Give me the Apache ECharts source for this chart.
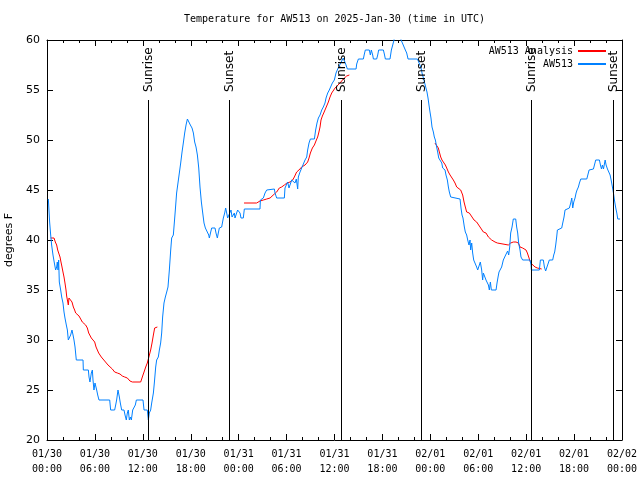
<!DOCTYPE html>
<html>
<head>
<meta charset="utf-8">
<script src="https://cdn.jsdelivr.net/npm/echarts@6/dist/echarts.min.js"></script>
<style>html,body{margin:0;padding:0;background:#fff}#c{width:640px;height:480px}</style>
</head>
<body>
<div id="c"></div>
<script>
// Hours since 2025-01-30 00:00 UTC
const blueHours = [0.17,0.33,0.46,0.58,0.75,0.92,1.08,1.21,1.29,1.38,1.46,1.54,1.71,1.84,2.00,2.13,2.25,2.42,2.55,2.67,2.84,2.96,3.13,3.26,3.38,3.51,3.67,4.51,4.55,5.18,5.26,5.38,5.55,5.68,5.76,5.88,6.01,6.14,6.22,6.35,6.51,7.85,7.97,8.47,8.60,8.72,8.89,9.06,9.18,9.35,9.64,9.77,9.93,10.06,10.18,10.31,10.43,10.56,10.73,10.89,11.06,11.19,12.02,12.15,12.56,12.69,12.81,12.98,13.11,13.32,13.44,13.61,13.73,13.94,14.07,14.23,14.36,14.48,14.65,14.82,14.99,15.15,15.32,15.49,15.61,15.82,15.94,16.07,16.23,16.40,16.57,16.74,16.91,17.07,17.24,17.41,17.58,17.83,17.95,18.16,18.33,18.49,18.66,18.83,19.00,19.16,19.33,19.50,19.66,19.83,20.08,20.25,20.33,20.50,20.62,21.04,21.16,21.33,21.45,21.58,21.87,22.08,22.25,22.37,22.50,22.62,22.83,23.04,23.17,23.33,23.46,23.54,23.75,23.87,24.08,24.17,24.29,24.58,24.71,26.67,26.72,27.09,27.30,27.51,28.47,28.55,28.76,29.72,29.80,30.01,30.14,30.30,30.47,30.64,30.85,31.05,31.22,31.39,31.47,31.68,31.89,32.10,32.31,32.52,32.64,32.81,32.98,33.48,33.64,33.81,33.98,34.19,34.40,34.60,34.81,34.94,35.15,35.35,35.56,35.73,35.98,36.19,36.40,36.61,36.90,37.10,37.23,37.40,37.61,38.70,38.78,38.99,39.61,39.74,39.86,40.36,40.49,40.61,40.78,40.87,41.28,41.41,41.53,42.12,42.24,42.37,42.95,43.12,43.29,43.45,43.62,44.20,44.33,44.50,44.71,44.87,45.04,45.21,46.38,46.54,46.71,46.84,46.96,47.13,47.29,47.42,47.58,47.71,47.83,47.96,48.08,48.21,48.38,48.50,48.63,48.79,48.92,49.05,49.30,49.43,49.55,49.84,49.96,50.13,50.26,50.38,50.55,50.67,51.72,51.84,51.97,52.09,52.26,52.38,52.55,52.68,52.84,52.97,53.05,53.18,53.30,53.43,53.60,53.80,53.93,54.14,54.26,54.43,54.55,54.64,54.81,54.97,55.14,55.27,55.39,55.52,55.64,56.23,56.35,56.48,56.60,56.81,56.93,57.14,57.31,57.43,57.56,57.68,57.81,57.94,58.06,58.23,58.39,58.69,58.81,58.94,59.06,59.23,59.35,59.56,60.48,60.61,60.65,61.65,61.78,62.15,62.28,62.44,62.57,62.69,62.90,63.32,63.45,63.57,63.70,63.82,63.91,64.03,64.45,64.58,64.74,64.87,65.00,65.41,65.58,65.71,65.83,65.96,66.12,66.25,66.37,66.54,66.67,66.84,67.59,67.72,67.88,68.09,68.42,68.55,68.71,69.17,69.30,69.43,69.55,69.68,69.89,70.01,70.18,70.35,70.51,70.64,70.80,70.93,71.05,71.22,71.35,71.47,71.76];
const blueTemps = [44.1,41.8,40.5,39.5,38.5,37.7,37.0,37.3,37.8,37.0,38.0,35.8,35.0,34.3,33.7,32.8,32.2,31.5,31.0,30.0,30.0,30.5,31.0,30.5,30.0,29.3,28.0,28.0,27.0,27.0,26.3,25.8,26.7,27.0,26.0,25.0,25.7,25.8,25.0,24.5,24.0,24.0,23.0,23.0,23.5,24.0,25.0,24.3,23.7,23.0,23.0,22.5,22.0,22.7,23.0,22.0,22.3,22.0,23.0,23.0,23.5,24.0,24.0,23.0,23.0,22.0,22.7,23.0,23.7,24.7,25.7,27.3,28.0,28.3,29.0,29.7,30.7,32.3,33.7,34.3,34.8,35.3,37.0,39.0,40.2,40.5,41.7,43.0,44.7,45.7,46.7,47.7,48.8,49.7,50.7,51.5,52.1,52.1,51.5,51.2,50.7,49.8,49.3,48.5,47.2,45.3,43.8,42.7,41.7,41.2,41.0,40.5,40.2,40.8,41.2,41.2,40.7,40.2,40.7,41.2,41.3,42.2,42.7,43.2,42.7,42.2,42.2,43.0,42.3,42.2,42.7,42.2,42.2,43.0,43.0,42.7,42.2,42.2,43.1,43.1,44.0,44.2,44.7,45.0,45.1,44.7,44.2,44.2,45.2,45.3,45.8,45.2,45.3,46.0,46.1,45.7,46.1,45.1,46.3,46.8,47.2,47.3,48.0,48.3,49.0,49.7,50.1,50.1,51.0,51.7,52.2,52.5,53.0,53.3,53.7,54.2,54.7,55.0,55.2,55.7,56.0,56.7,57.1,57.3,57.9,58.2,58.2,57.6,57.1,57.1,57.6,58.1,58.1,58.6,59.0,59.0,58.5,59.0,58.5,58.1,58.1,58.5,59.0,59.0,58.6,58.1,58.1,59.0,59.5,60.0,61.0,61.0,60.0,59.7,59.3,59.0,58.7,58.1,58.1,57.8,57.6,57.2,56.7,56.2,55.7,55.3,54.8,54.2,53.5,52.8,52.2,51.3,50.8,50.3,50.0,49.3,48.8,48.2,48.0,47.7,47.2,47.0,46.5,46.0,45.3,44.8,44.3,44.1,44.1,43.2,42.5,42.2,41.3,40.8,40.5,40.0,39.5,40.0,39.0,39.7,38.7,38.0,38.0,37.3,37.0,37.0,37.8,37.0,36.0,36.7,36.8,36.0,35.8,35.5,35.0,35.8,35.0,35.0,35.7,36.3,36.8,37.0,37.3,38.0,38.0,38.5,38.7,38.9,38.5,39.3,40.7,41.3,42.1,42.1,41.3,40.7,39.7,39.0,38.3,38.0,38.0,37.5,37.0,37.0,38.0,38.0,37.3,36.9,37.0,37.5,38.0,38.0,38.5,38.8,39.5,40.3,41.0,41.2,41.2,41.7,42.3,43.0,43.2,43.2,43.7,44.2,43.2,43.8,44.2,44.7,45.0,45.3,45.7,46.1,46.1,46.5,47.0,47.1,47.1,47.5,48.0,48.0,47.5,47.1,47.5,47.1,48.0,47.5,47.1,47.0,46.5,46.0,45.3,44.7,44.0,43.2,42.7,42.1,42.1];

const redHours = [0.45,0.88,1.04,1.21,1.34,1.46,1.63,1.75,1.88,2.00,2.13,2.25,2.38,2.46,2.55,2.67,2.75,2.96,3.13,3.30,3.46,3.59,3.80,4.01,4.13,4.42,4.55,4.84,5.05,5.22,5.38,5.55,5.72,5.97,6.14,6.30,6.47,6.64,6.80,7.05,7.22,7.39,7.64,7.89,8.18,8.47,8.81,9.14,9.43,9.73,10.06,10.39,10.69,11.73,11.85,12.02,12.15,12.36,12.56,12.77,12.98,13.15,13.32,13.48,13.61,13.82,
  19.0,
  24.67,26.25,26.67,27.09,27.51,27.93,28.13,28.47,28.76,29.09,29.38,29.72,30.05,30.43,30.76,30.97,31.26,31.55,31.89,32.31,32.64,32.81,32.98,33.23,33.48,33.73,33.89,34.02,34.19,34.31,34.48,34.65,34.81,35.02,35.23,35.44,35.65,35.86,36.07,36.27,36.69,37.11,37.52,37.86,
  43.0,
  48.58,48.79,49.00,49.13,49.30,49.46,49.71,49.88,50.05,50.26,50.47,50.72,50.88,51.09,51.30,51.51,51.80,52.05,52.22,52.38,52.55,52.88,53.05,53.22,53.47,53.80,54.01,54.22,54.43,54.64,54.97,55.27,55.48,55.68,56.10,56.39,56.64,57.77,58.06,58.39,58.73,59.02,59.23,59.56,59.98,60.15,60.36,60.57,60.82,61.11,61.40,61.65,61.94];
const redTemps = [40.2,40.2,39.8,39.5,39.0,38.7,38.3,37.8,37.3,36.8,36.3,35.7,35.0,34.4,34.2,33.5,34.2,34.2,33.8,33.3,33.0,32.7,32.6,32.4,32.2,31.8,31.6,31.5,31.2,30.7,30.5,30.2,30.0,29.8,29.3,29.1,28.7,28.5,28.3,28.2,27.9,27.7,27.5,27.3,27.1,26.8,26.7,26.6,26.4,26.3,26.2,25.9,25.8,25.8,26.0,26.5,26.8,27.3,27.7,27.8,29.0,29.7,30.5,31.2,31.3,31.3,
  null,
  43.7,43.7,43.9,44.0,44.1,44.2,44.3,44.6,44.8,45.2,45.3,45.5,45.7,45.8,46.0,46.3,46.8,47.0,47.3,47.5,47.8,48.2,48.7,49.2,49.5,50.0,50.3,50.7,51.3,52.0,52.4,52.7,53.0,53.4,53.8,54.3,54.7,54.9,55.2,55.4,55.7,56.1,56.4,56.5,
  null,
  49.7,49.5,49.2,48.8,48.3,48.0,47.8,47.5,47.2,46.8,46.5,46.3,46.0,45.7,45.3,45.2,45.0,44.5,43.8,43.3,42.8,42.7,42.5,42.3,42.0,41.8,41.7,41.3,41.1,40.8,40.7,40.3,40.2,40.0,39.8,39.7,39.5,39.5,39.7,39.8,39.8,39.7,39.3,39.2,39.0,38.7,38.2,37.7,37.5,37.3,37.2,37.1,37.1];

const sunHours = [12.69, 22.83, 36.80, 46.84, 60.63, 70.93];
const sunLabels = ['Sunrise', 'Sunset', 'Sunrise', 'Sunset', 'Sunrise', 'Sunset'];
const dayLabels = ['01/30', '01/31', '02/01', '02/02'];

const MONO = '"DejaVu Sans Mono", "Liberation Mono", monospace';
const SANS = '"DejaVu Sans", sans-serif';

const zip = (a, b) => a.map((v, i) => [v, b[i]]);

function xLabel(v) {
  const d = Math.floor(v / 24 + 1e-6);
  const hr = Math.round(v - d * 24);
  return dayLabels[d] + '\n' + (hr < 10 ? '0' + hr : hr) + ':00';
}

const chart = echarts.init(document.getElementById('c'), null, { renderer: 'canvas' });

const xBase = {
  type: 'value', min: 0, max: 72, interval: 6,
  splitLine: { show: false },
  axisLine: { show: true, onZero: false, lineStyle: { color: '#000', width: 1 } },
  axisTick: { show: true, inside: true, length: 6, lineStyle: { color: '#000' } },
  minorTick: { show: true, splitNumber: 3, length: 3, lineStyle: { color: '#000' } },
};
const yBase = {
  type: 'value', min: 20, max: 60, interval: 5,
  splitLine: { show: false },
  axisLine: { show: true, onZero: false, lineStyle: { color: '#000', width: 1 } },
  axisTick: { show: true, inside: true, length: 6, lineStyle: { color: '#000' } },
};

chart.setOption({
  animation: false,
  backgroundColor: '#fff',
  title: {
    text: 'Temperature for AW513 on 2025-Jan-30 (time in UTC)',
    left: 179, top: 9,
    textStyle: { fontFamily: MONO, fontSize: 10, fontWeight: 'normal', color: '#000' }
  },
  legend: {
    data: ['AW513 Analysis', 'AW513'],
    orient: 'vertical', right: 29, top: 41, align: 'right',
    itemWidth: 28, itemHeight: 2, itemGap: 3, icon: 'rect',
    textStyle: { fontFamily: MONO, fontSize: 10, color: '#000', padding: [0, 0, 0, 0] },
    itemStyle: { borderWidth: 0 }
  },
  grid: { left: 47, right: 18, top: 40, bottom: 40, containLabel: false, outerBoundsMode: 'none' },
  xAxis: [
    Object.assign({}, xBase, {
      position: 'bottom',
      axisLabel: { show: true, formatter: xLabel, fontFamily: MONO, fontSize: 10, color: '#000', lineHeight: 15, margin: 7 }
    }),
    Object.assign({}, xBase, { position: 'top', axisLabel: { show: false } })
  ],
  yAxis: [
    Object.assign({}, yBase, {
      position: 'left',
      name: 'degrees F', nameLocation: 'middle', nameGap: 31, nameRotate: 90,
      nameTextStyle: { fontFamily: SANS, fontSize: 11, color: '#000' },
      axisLabel: { show: true, fontFamily: SANS, fontSize: 11, color: '#000', margin: 7 }
    }),
    Object.assign({}, yBase, { position: 'right', axisLabel: { show: false } })
  ],
  series: [
    {
      name: 'AW513 Analysis', type: 'line', xAxisIndex: 0, yAxisIndex: 0,
      data: zip(redHours, redTemps), showSymbol: false, connectNulls: false,
      lineStyle: { color: '#ff0000', width: 1 }, itemStyle: { color: '#ff0000' }, z: 3, clip: true
    },
    {
      name: 'AW513', type: 'line', xAxisIndex: 0, yAxisIndex: 0,
      data: zip(blueHours, blueTemps), showSymbol: false,
      lineStyle: { color: '#0080ff', width: 1 }, itemStyle: { color: '#0080ff' }, z: 4, clip: true
    },
    {
      name: 'sun', type: 'custom', xAxisIndex: 0, yAxisIndex: 0, z: 5, clip: false,
      data: sunHours.map((h, i) => [h, 20, i]),
      renderItem: function (params, api) {
        const h = api.value(0);
        const idx = api.value(2);
        const p1 = api.coord([h, 20]);
        const p2 = api.coord([h, 54]);
        const x = Math.round(p1[0]) + 0.5;
        return {
          type: 'group',
          children: [
            { type: 'line', shape: { x1: x, y1: p1[1], x2: x, y2: p2[1] }, style: { stroke: '#000', lineWidth: 1 } },
            { type: 'text', x: x, y: p2[1] - 8, rotation: Math.PI / 2,
              style: { text: sunLabels[idx], textAlign: 'left', textVerticalAlign: 'middle', font: '12px ' + SANS, fill: '#000' } }
          ]
        };
      }
    }
  ]
});
</script>
</body>
</html>
